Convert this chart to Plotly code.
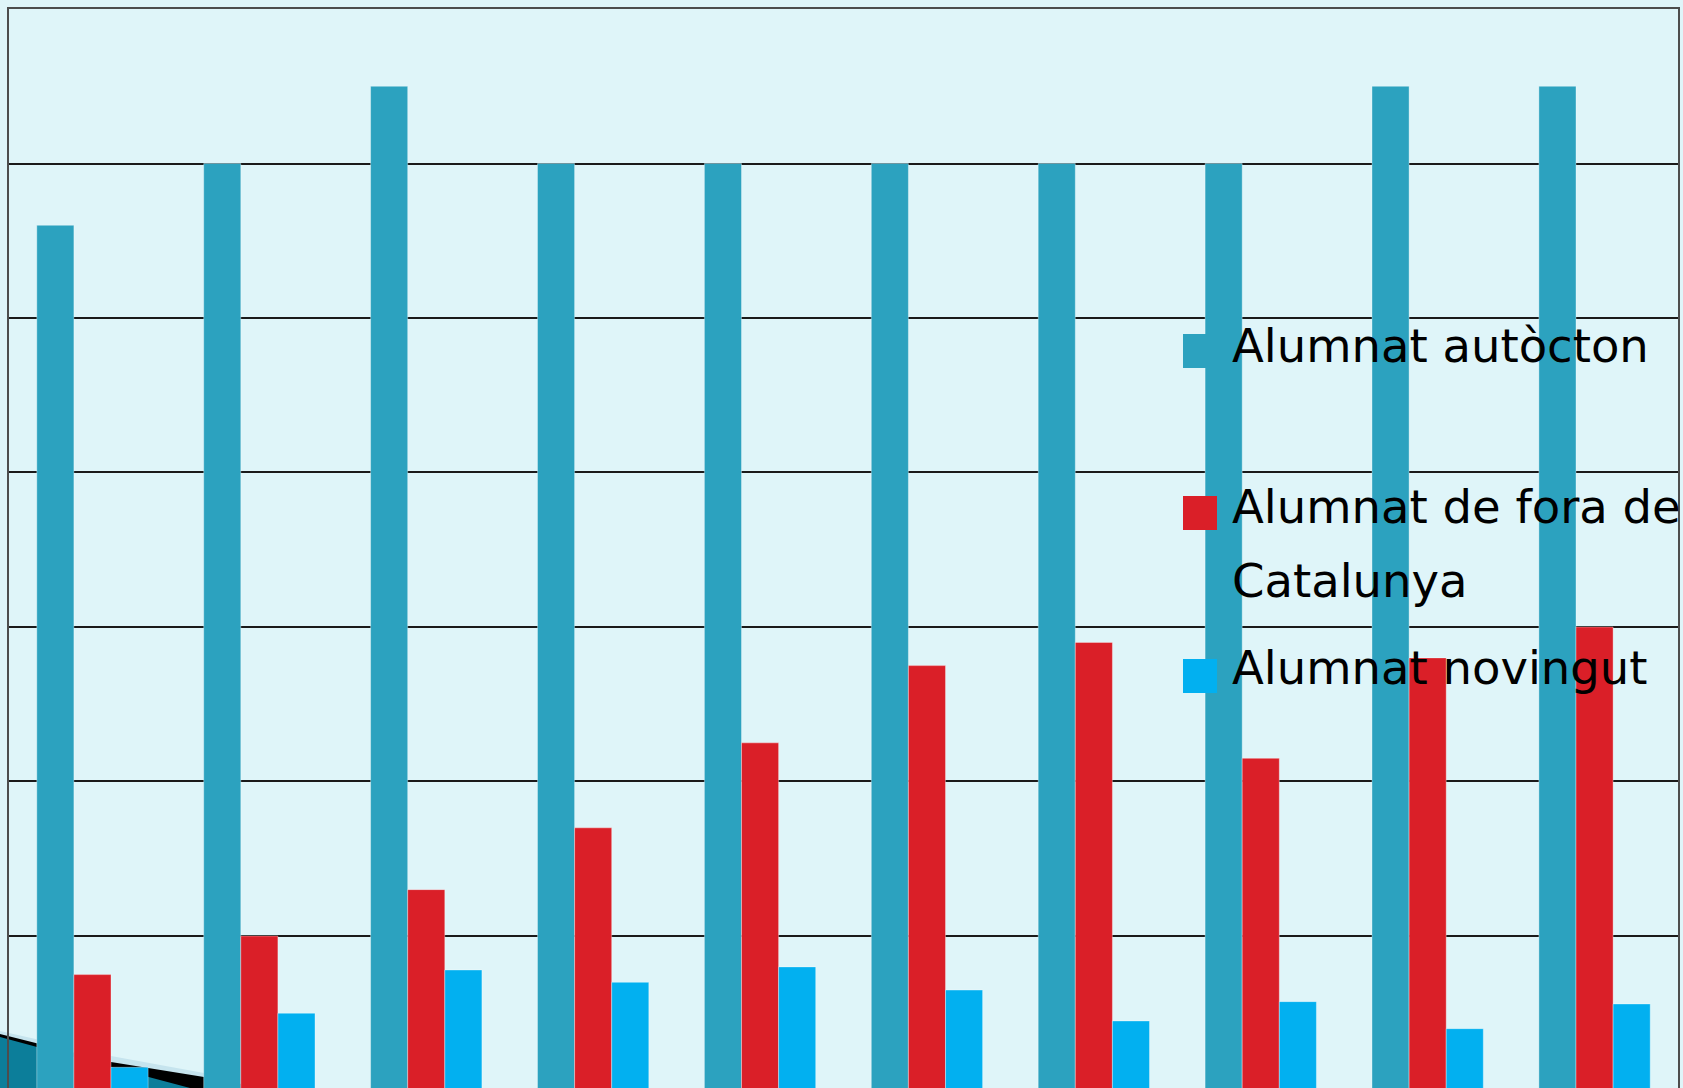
import plotly.graph_objects as go

# ---- data ----
categories = ["1", "2", "3", "4", "5", "6", "7", "8", "9", "10"]
series_names = ["Alumnat autòcton", "Alumnat de fora de Catalunya", "Alumnat novingut"]
autocton = [56, 60, 65, 60, 60, 60, 60, 60, 65, 65]
fora_catalunya = [7.5, 10, 13, 17, 22.5, 27.5, 29, 21.5, 28, 30]
novingut = [1.5, 5, 7.8, 7, 8, 6.5, 4.5, 5.75, 4, 5.6]
legend_lines = [["Alumnat autòcton"], ["Alumnat de fora de", "Catalunya"], ["Alumnat novingut"]]

colors = ["#2CA2BF", "#DA1F28", "#02B0F0"]
BG = "#DFF5F9"

W, H = 1683, 1088
PL, PR, PT, PB = 9, 1678, 9, 1088  # plot area in px


def px(x):
    return (x - PL) / (PR - PL)


def py(y):
    return (PB - y) / (PB - PT)


fig = go.Figure()
for name, vals, col in zip(series_names, [autocton, fora_catalunya, novingut], colors):
    fig.add_trace(go.Bar(
        x=categories, y=vals, name=name, showlegend=False,
        marker=dict(color=col, line=dict(color="rgba(255,255,255,0.35)", width=1)),
    ))

shapes = []
# decorative slide element bottom-left (behind bars)
def poly(pts, fill):
    path = "M " + " L ".join(f"{px(a):.5f},{py(b):.5f}" for a, b in pts) + " Z"
    return dict(type="path", path=path, xref="paper", yref="paper",
                fillcolor=fill, line=dict(width=0), layer="below")

shapes.append(poly([(0, 1031), (111, 1056), (204, 1073), (290, 1088), (0, 1088)], "#C6E4EE"))
shapes.append(poly([(0, 1034), (111, 1062), (204, 1077), (262, 1088), (0, 1088)], "#000000"))
shapes.append(poly([(0, 1037), (111, 1067), (190, 1088), (0, 1088)], "#0C7E9A"))

# legend squares
sq_tops = [334, 496, 659]
for top, col in zip(sq_tops, colors):
    shapes.append(dict(type="rect", xref="paper", yref="paper",
                       x0=px(1183), x1=px(1217), y0=py(top + 34), y1=py(top),
                       fillcolor=col, line=dict(width=0), layer="above"))

annotations = []
baselines = [[361.5], [522.5, 596.5], [683.5]]
FS = 46.5
for lines, bls in zip(legend_lines, baselines):
    for txt, bl in zip(lines, bls):
        annotations.append(dict(
            text=txt, xref="paper", yref="paper", x=px(1230), y=py(bl - 16),
            xanchor="left", yanchor="middle", showarrow=False,
            font=dict(family="DejaVu Sans", size=FS, color="#000000"),
        ))

fig.update_layout(
    width=W, height=H,
    margin=dict(l=PL, r=W - PR, t=PT, b=H - PB, pad=0),
    paper_bgcolor=BG, plot_bgcolor=BG,
    barmode="group", bargap=0.333, bargroupgap=0,
    showlegend=False,
    shapes=shapes, annotations=annotations,
    xaxis=dict(range=[-0.5, 9.5], side="top", showline=True, linecolor="#4D4D4D",
               linewidth=2, showgrid=False, showticklabels=False, ticks="",
               zeroline=False, fixedrange=True),
    yaxis=dict(range=[0.16, 70], tick0=0, dtick=10, showgrid=True,
               gridcolor="#1A1A1A", gridwidth=2, showline=True, mirror=True,
               linecolor="#4D4D4D", linewidth=2, showticklabels=False,
               ticks="", zeroline=False, fixedrange=True),
)

page_style = (
    "document.body.style.margin='0';"
    "document.body.style.overflow='hidden';"
    f"document.body.style.background='{BG}';"
)
fig.write_html("out.html", config={"displayModeBar": False}, post_script=page_style)
